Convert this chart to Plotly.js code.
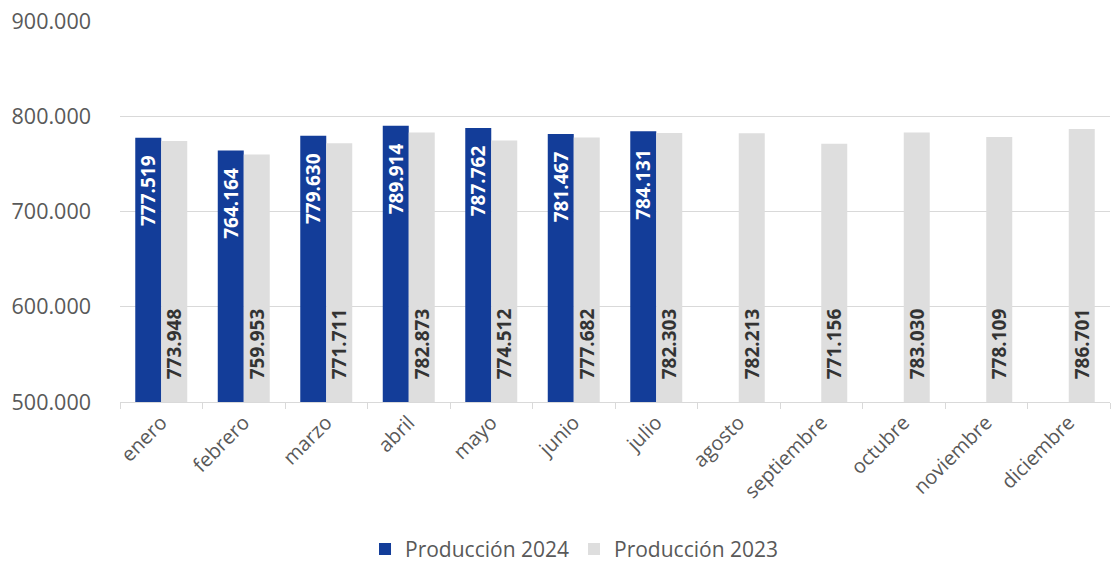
<!DOCTYPE html>
<html>
<head>
<meta charset="utf-8">
<script src="https://cdn.plot.ly/plotly-3.0.1.min.js"></script>
<style>html,body{margin:0;padding:0;background:#fff;}#chart{width:1112px;height:565px;}</style>
</head>
<body>
<div id="chart"></div>
<script>
const months = ["enero","febrero","marzo","abril","mayo","junio","julio","agosto","septiembre","octubre","noviembre","diciembre"];
const prod2024 = [777519, 764164, 779630, 789914, 787762, 781467, 784131, null, null, null, null, null];
const prod2023 = [773948, 759953, 771711, 782873, 774512, 777682, 782303, 782213, 771156, 783030, 778109, 786701];
const seriesNames = ["Producción 2024", "Producción 2023"];
const axisMin = 500000;

const fontFam = "Open Sans, sans-serif";
const traces = [
  {
    type: "bar", name: seriesNames[0], x: months,
    base: axisMin, y: prod2024.map(v => v === null ? null : v - axisMin), customdata: prod2024,
    marker: {color: "#133D99"},
    texttemplate: "%{customdata:,.0f}\u00a0\u00a0\u00a0", textposition: "inside", insidetextanchor: "end",
    textangle: -90, constraintext: "none",
    textfont: {family: fontFam, size: 19, color: "#ffffff", weight: "bold"},
    hoverinfo: "skip"
  },
  {
    type: "bar", name: seriesNames[1], x: months,
    base: axisMin, y: prod2023.map(v => v - axisMin), customdata: prod2023,
    marker: {color: "#DEDEDE"},
    texttemplate: "\u00a0\u00a0\u00a0\u00a0%{customdata:,.0f}", textposition: "inside", insidetextanchor: "start",
    textangle: -90, constraintext: "none",
    textfont: {family: fontFam, size: 19, color: "#333333", weight: "bold"},
    hoverinfo: "skip"
  }
];

const layout = {
  width: 1112, height: 565,
  margin: {l: 120, r: 2, t: 21, b: 163},
  paper_bgcolor: "#ffffff", plot_bgcolor: "#ffffff",
  separators: ",.",
  barmode: "group", bargap: 0.37, bargroupgap: 0,
  font: {family: fontFam, color: "#595959"},
  xaxis: {
    type: "category", tickangle: -45, automargin: false,
    tickfont: {size: 20, color: "#595959"},
    showgrid: false, showline: true, linecolor: "#D9D9D9", linewidth: 1,
    ticks: "outside", tickson: "boundaries", ticklen: 6, tickcolor: "#D9D9D9",
    zeroline: false
  },
  yaxis: {
    range: [500000, 900000], dtick: 100000, tickformat: ",.0f", automargin: false,
    tickfont: {size: 21.5, color: "#595959"},
    showgrid: true, gridcolor: "#D9D9D9", gridwidth: 1,
    zeroline: false, showline: false, ticks: "", ticklabelstandoff: 28
  },
  legend: {
    orientation: "h", x: 0.4586, xanchor: "center",
    yref: "container", y: 0.064, yanchor: "top",
    font: {size: 21, color: "#595959"}, traceorder: "normal", itemwidth: 30
  },
  showlegend: true
};

Plotly.newPlot("chart", traces, layout, {displayModeBar: false, staticPlot: true});
</script>
</body>
</html>
